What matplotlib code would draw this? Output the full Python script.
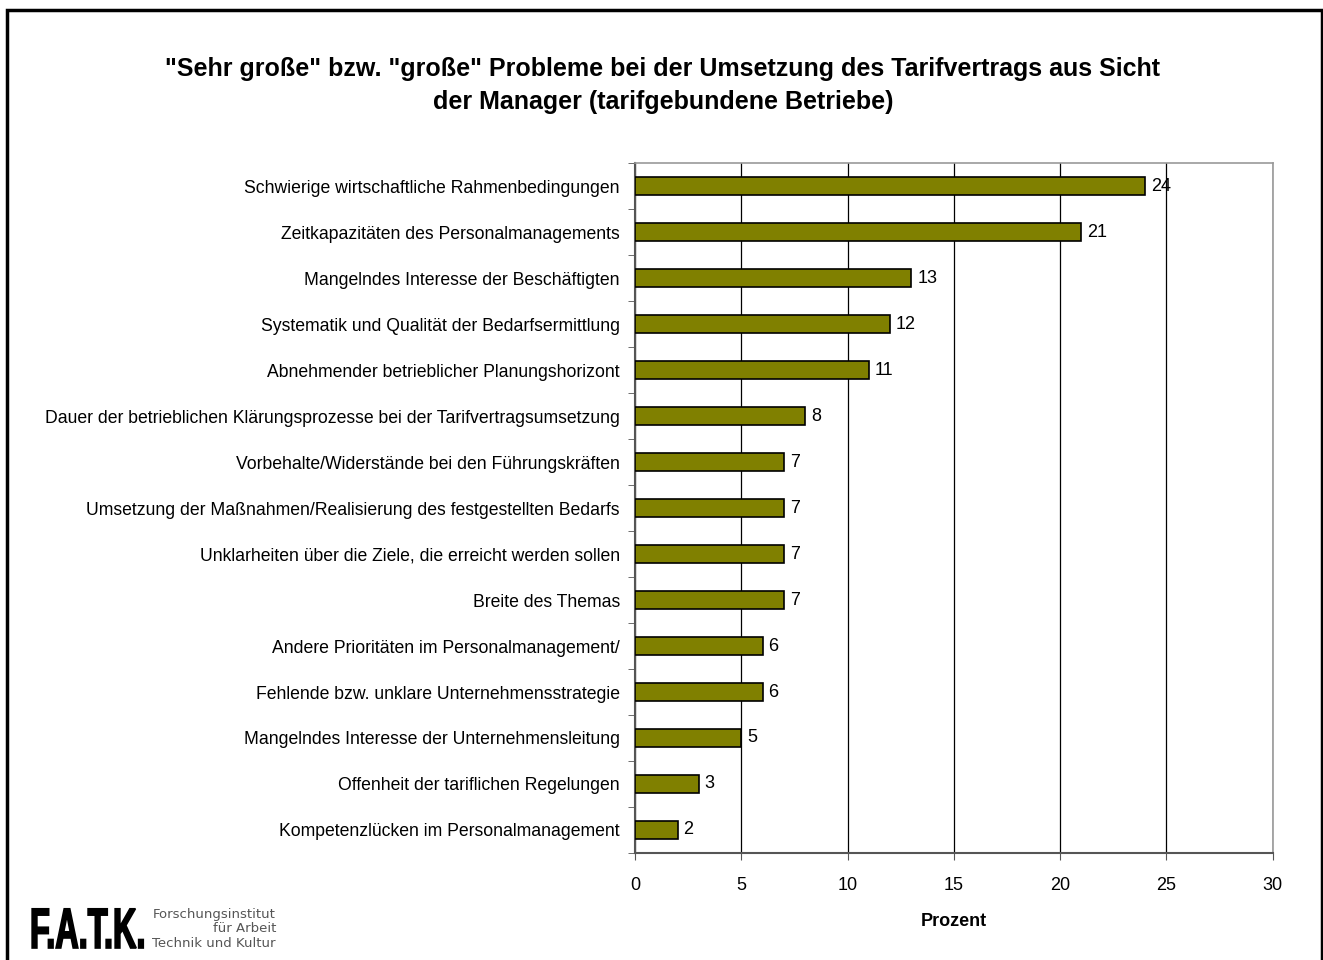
import matplotlib
matplotlib.use("Agg")
import matplotlib.pyplot as plt
from matplotlib.patches import Rectangle, PathPatch
from matplotlib.textpath import TextPath
from matplotlib.font_manager import FontProperties
from matplotlib.transforms import Affine2D

plt.rcParams['font.family'] = ['Liberation Sans', 'DejaVu Sans']

categories = [
    "Schwierige wirtschaftliche Rahmenbedingungen",
    "Zeitkapazitäten des Personalmanagements",
    "Mangelndes Interesse der Beschäftigten",
    "Systematik und Qualität der Bedarfsermittlung",
    "Abnehmender betrieblicher Planungshorizont",
    "Dauer der betrieblichen Klärungsprozesse bei der Tarifvertragsumsetzung",
    "Vorbehalte/Widerstände bei den Führungskräften",
    "Umsetzung der Maßnahmen/Realisierung des festgestellten Bedarfs",
    "Unklarheiten über die Ziele, die erreicht werden sollen",
    "Breite des Themas",
    "Andere Prioritäten im Personalmanagement/",
    "Fehlende bzw. unklare Unternehmensstrategie",
    "Mangelndes Interesse der Unternehmensleitung",
    "Offenheit der tariflichen Regelungen",
    "Kompetenzlücken im Personalmanagement",
]
values = [24, 21, 13, 12, 11, 8, 7, 7, 7, 7, 6, 6, 5, 3, 2]
xticks = [0, 5, 10, 15, 20, 25, 30]

fig = plt.figure(figsize=(13.23, 9.6), dpi=100)
ax = fig.add_axes([0.480, 0.1115, 0.482, 0.7185])

pos = list(range(len(categories)))
ax.barh(pos, values, height=0.4, color="#808000", edgecolor="black", linewidth=1.2, zorder=3)
for p, v in zip(pos, values):
    ax.text(v + 0.28, p, str(v), va="center", ha="left", fontsize=13, zorder=4)

ax.set_ylim(len(categories) - 0.5, -0.5)
ax.set_xlim(0, 30)
ax.set_yticks(pos)
ax.set_yticklabels(categories, fontsize=12.7)
ax.set_yticks([i - 0.5 for i in range(len(categories) + 1)], minor=True)
ax.tick_params(axis="y", which="major", length=0, pad=11)
ax.tick_params(axis="y", which="minor", length=5, color="#555555")
ax.set_xticks(xticks)
ax.set_xticklabels([str(t) for t in xticks], fontsize=13)
ax.tick_params(axis="x", length=5, color="#555555", pad=12)
ax.xaxis.grid(True, color="black", linewidth=0.9, zorder=0)
ax.set_xlabel("Prozent", fontsize=13, fontweight="bold", labelpad=14)

for s in ["top", "right"]:
    ax.spines[s].set_color("#999999")
    ax.spines[s].set_linewidth(1.2)
for s in ["left", "bottom"]:
    ax.spines[s].set_color("#555555")
    ax.spines[s].set_linewidth(1.5)

fig.text(0.501, 0.911, "\"Sehr große\" bzw. \"große\" Probleme bei der Umsetzung des Tarifvertrags aus Sicht\nder Manager (tarifgebundene Betriebe)",
         ha="center", va="center", fontsize=18, fontweight="bold", linespacing=1.45)

# Rahmen
fig.patches.append(Rectangle((7 / 1323, -0.01), 1315 / 1323, 1 - 10 / 960 + 0.01,
                             transform=fig.transFigure, fill=False, edgecolor="black", linewidth=2.5))

# Logo (schmal gestauchte Schrift)
logo = TextPath((0, 0), "F.A.T.K.", size=57, prop=FontProperties(family="Liberation Sans", weight="bold"))
logo_tr = Affine2D().scale(0.57, 1.0).translate(30, 960 - 948).scale(1 / 100) + fig.dpi_scale_trans
fig.patches.append(PathPatch(logo, transform=logo_tr, facecolor="black", edgecolor="black", linewidth=1.2))
fig.text(276 / 1323, 1 - 929 / 960, "Forschungsinstitut\nfür Arbeit\nTechnik und Kultur", fontsize=9.5,
         ha="right", va="center", color="#555555", linespacing=1.15, family=['DejaVu Sans'])

fig.savefig("out.png", dpi=100)
